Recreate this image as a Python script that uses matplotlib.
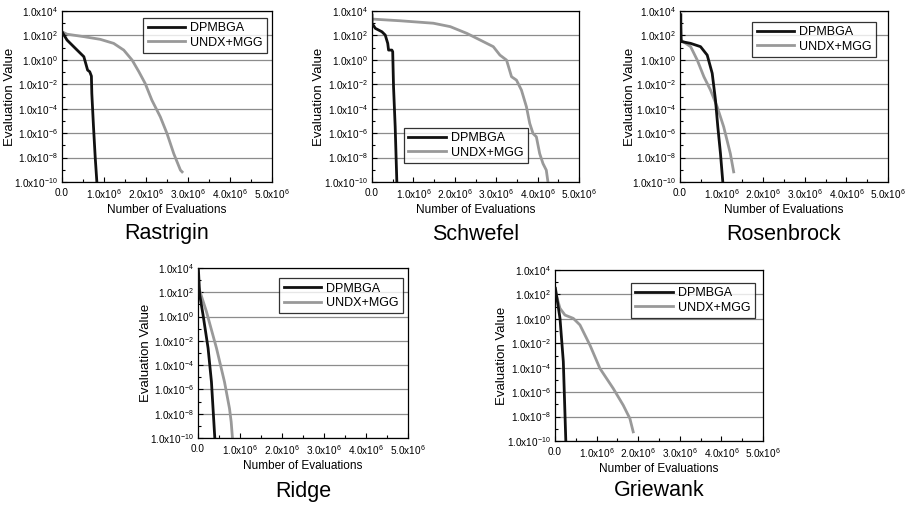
import matplotlib
matplotlib.use("Agg")
import matplotlib.pyplot as plt
from matplotlib.ticker import FixedLocator, FuncFormatter
import numpy as np

plt.rcParams['font.family'] = ['Liberation Sans', 'DejaVu Sans']
plt.rcParams['mathtext.default'] = 'regular'

# ---- data (x in evaluations, y = log10 of evaluation value) ----
titles = ["Rastrigin", "Schwefel", "Rosenbrock", "Ridge", "Griewank"]
series_names = ["DPMBGA", "UNDX+MGG"]

rastrigin_dp_x = [0, 0.12e6, 0.36e6, 0.52e6, 0.61e6, 0.66e6, 0.70e6, 0.71e6, 0.75e6, 0.79e6, 0.83e6]
rastrigin_dp_y = [2.3, 1.62, 0.8, 0.26, -0.84, -0.97, -1.33, -2.75, -5.48, -7.94, -10]
rastrigin_un_x = [0, 0.12e6, 0.52e6, 0.91e6, 1.23e6, 1.47e6, 1.67e6, 1.83e6, 1.98e6, 2.14e6, 2.34e6, 2.5e6, 2.66e6, 2.82e6, 2.86e6]
rastrigin_un_y = [2.3, 2.1, 1.9, 1.68, 1.35, 0.8, -0.02, -0.97, -1.93, -3.3, -4.66, -6.03, -7.67, -9.03, -9.17]

schwefel_dp_x = [0, 0, 0.08e6, 0.24e6, 0.32e6, 0.38e6, 0.40e6, 0.48e6, 0.50e6, 0.52e6, 0.56e6, 0.60e6]
schwefel_dp_y = [3.67, 3.0, 2.58, 2.3, 2.03, 1.35, 0.8, 0.8, 0.67, -2.2, -5.48, -10]
schwefel_un_x = [0, 0.68e6, 1.48e6, 1.89e6, 2.29e6, 2.69e6, 2.93e6, 3.09e6, 3.25e6, 3.37e6, 3.49e6, 3.61e6, 3.73e6, 3.81e6, 3.89e6, 3.97e6, 4.05e6, 4.13e6, 4.21e6, 4.25e6]
schwefel_un_y = [3.34, 3.2, 3.0, 2.72, 2.17, 1.49, 1.08, 0.39, -0.02, -1.38, -1.66, -2.48, -3.84, -5.2, -6.03, -6.3, -7.67, -8.49, -9.03, -10]

rosen_dp_x = [0.02e6, 0.02e6, 0.03e6, 0.255e6, 0.494e6, 0.654e6, 0.774e6, 0.853e6, 0.909e6, 0.973e6, 1.029e6]
rosen_dp_y = [3.7, 3.0, 1.5, 1.35, 1.08, 0.39, -1.1, -3.3, -5.48, -7.67, -10]
rosen_un_x = [0.02e6, 0.255e6, 0.415e6, 0.574e6, 0.734e6, 0.893e6, 1.05e6, 1.21e6, 1.29e6]
rosen_un_y = [1.62, 1.08, -0.02, -1.38, -2.48, -3.84, -5.48, -7.67, -9.17]

ridge_dp_x = [0.01e6, 0.04e6, 0.12e6, 0.24e6, 0.32e6, 0.40e6]
ridge_dp_y = [3.86, 1.8, 0.14, -2.6, -5.37, -10]
ridge_un_x = [0.02e6, 0.2e6, 0.44e6, 0.63e6, 0.75e6, 0.79e6, 0.82e6]
ridge_un_y = [2.35, 0.42, -2.6, -5.37, -7.57, -8.67, -10]

griew_dp_x = [0.01e6, 0.12e6, 0.2e6, 0.26e6]
griew_dp_y = [2.5, 0.04, -3.5, -10]
griew_un_x = [0.01e6, 0.12e6, 0.24e6, 0.44e6, 0.6e6, 0.84e6, 1.08e6, 1.4e6, 1.64e6, 1.8e6, 1.88e6]
griew_un_y = [2.22, 0.86, 0.31, 0.04, -0.5, -2.15, -4.06, -5.7, -7.07, -8.16, -9.25]

data = [
    (rastrigin_dp_x, rastrigin_dp_y, rastrigin_un_x, rastrigin_un_y),
    (schwefel_dp_x, schwefel_dp_y, schwefel_un_x, schwefel_un_y),
    (rosen_dp_x, rosen_dp_y, rosen_un_x, rosen_un_y),
    (ridge_dp_x, ridge_dp_y, ridge_un_x, ridge_un_y),
    (griew_dp_x, griew_dp_y, griew_un_x, griew_un_y),
]

# ---- layout (pixels) ----
W, H = 911, 505
boxes = [(62, 272, 11, 182), (372, 579, 11, 182), (680, 888, 11, 182),
         (198, 408, 268, 438), (555, 763, 270, 441)]
ylabel_gap = [46, 47, 44, 46, 47]
legend_locs = ["upper right", "lower center", "upper right", "upper right", "upper right"]
legend_anchor = [(0.976, 0.96), (0.454, 0.11), (0.942, 0.936), (0.976, 0.94), (0.96, 0.924)]
title_y = [234, 234, 234, 491, 491]

tick_family = ['Liberation Sans Narrow', 'Liberation Sans', 'DejaVu Sans']

fig = plt.figure(figsize=(W / 100, H / 100), dpi=100)

def yfmt(v, pos):
    e = int(round(v))
    return "1.0x10$^{%d}$" % e

def xfmt(v, pos):
    if v == 0:
        return "0.0"
    return "%.1fx10$^{6}$" % (v / 1e6)

for i, (l, r, t, b) in enumerate(boxes):
    ax = fig.add_axes([l / W, 1 - b / H, (r - l) / W, (b - t) / H])
    dx, dy, ux, uy = data[i]
    ax.plot(dx, dy, color="#111111", lw=2.0, label=series_names[0], zorder=3)
    ax.plot(ux, uy, color="#999999", lw=2.0, label=series_names[1], zorder=2)
    ax.set_xlim(0, 5e6)
    ax.set_ylim(-10, 4)
    ax.yaxis.set_major_locator(FixedLocator([4, 2, 0, -2, -4, -6, -8, -10]))
    ax.yaxis.set_minor_locator(FixedLocator([3, 1, -1, -3, -5, -7, -9]))
    ax.xaxis.set_major_locator(FixedLocator([0, 1e6, 2e6, 3e6, 4e6, 5e6]))
    ax.xaxis.set_minor_locator(FixedLocator([0.5e6, 1.5e6, 2.5e6, 3.5e6, 4.5e6]))
    ax.yaxis.set_major_formatter(FuncFormatter(yfmt))
    ax.xaxis.set_major_formatter(FuncFormatter(xfmt))
    ax.tick_params(which="both", direction="in", labelsize=7.2, color="black", width=0.8)
    ax.tick_params(which="major", length=3.5)
    ax.tick_params(axis="y", which="major", pad=3)
    ax.tick_params(axis="x", which="major", pad=4)
    ax.tick_params(which="minor", length=2)
    for lab in ax.get_xticklabels() + ax.get_yticklabels():
        lab.set_family(tick_family)
    ax.grid(True, which="major", axis="y", color="#8c8c8c", lw=0.9)
    for s in ax.spines.values():
        s.set_linewidth(0.9)
    ax.set_xlabel("Number of Evaluations", fontsize=8.5, labelpad=2)
    ax.set_ylabel("Evaluation Value", fontsize=9.5)
    ax.yaxis.set_label_coords(-ylabel_gap[i] / (r - l), 0.5)
    leg = ax.legend(loc=legend_locs[i], bbox_to_anchor=legend_anchor[i], fontsize=9,
                    frameon=True, fancybox=False, edgecolor="black",
                    handlelength=3.0, borderpad=0.35, labelspacing=0.2,
                    handletextpad=0.4, borderaxespad=0)
    leg.get_frame().set_linewidth(0.9)
    fig.text(((l + r) / 2) / W, 1 - title_y[i] / H, titles[i], fontsize=15.5,
             ha="center", va="center")

fig.savefig("out.png", dpi=100)
